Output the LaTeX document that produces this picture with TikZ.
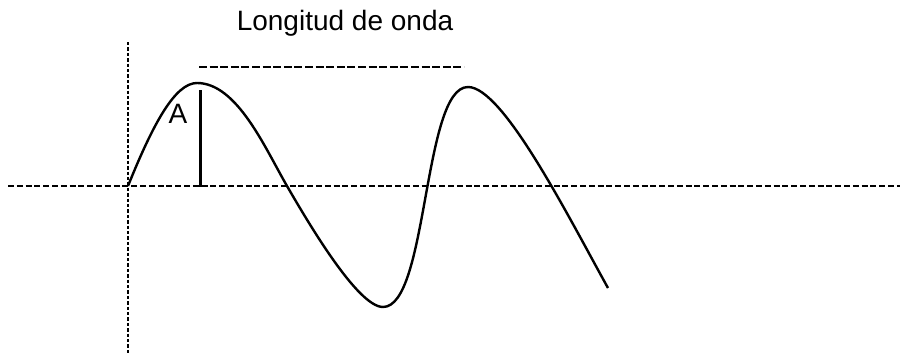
\documentclass[tikz,border=0pt]{standalone}
\usepackage{fontspec}
\setmainfont{Liberation Sans}
\usetikzlibrary{calc}
\tikzset{line width=1pt,
  every node/.style={font=\fontsize{14}{16}\selectfont},
  axisline/.style={draw=black,line width=1pt,dash pattern=on 3pt off 1.4pt},
  refline/.style={draw=black,line width=.9pt,dash pattern=on 1.7pt off 1pt},
  spanline/.style={draw=black,line width=1.3pt,dash pattern=on 4pt off 1.3pt},
  wave/.style={draw=black,line width=1.2pt,line join=round},
  ampline/.style={draw=black,line width=1.5pt}}

\begin{document}
\begin{tikzpicture}[x=.5pt,y=-.5pt]
\path[use as bounding box] (0,0) rectangle (906,354);

\coordinate (hl) at (8,186);\coordinate (hr) at (900,186);
\coordinate (vt) at (128,42);\coordinate (vb) at (128,354);
\draw[axisline] (hl)--(hr);\draw[refline] (vt)--(vb);
\coordinate (sl) at (199,67);\coordinate (sr) at (464,67);
\draw[spanline] (sl)--(sr);
\node (title) at (345,23) {Longitud de onda};
\coordinate (w0) at (128,186);\coordinate (crest1) at (197,83);
\coordinate (w1) at (287,186);\coordinate (trough) at (383,307);
\coordinate (crest2) at (468,87);\coordinate (wend) at (608,288);
\draw[wave] (w0) .. controls (153,124) and (175,83) .. (crest1)
  .. controls (237,83) and (265,148) .. (w1)
  .. controls (309,224) and (358,307) .. (trough)
  .. controls (428,307) and (423,87) .. (crest2)
  .. controls (503,87) and (568,216) .. (wend);
\coordinate (atop) at (200,90);\coordinate (abot) at (200,187);
\draw[ampline] (atop)--(abot);
\node (amp) at (178,114) {A};
\end{tikzpicture}
\end{document}
